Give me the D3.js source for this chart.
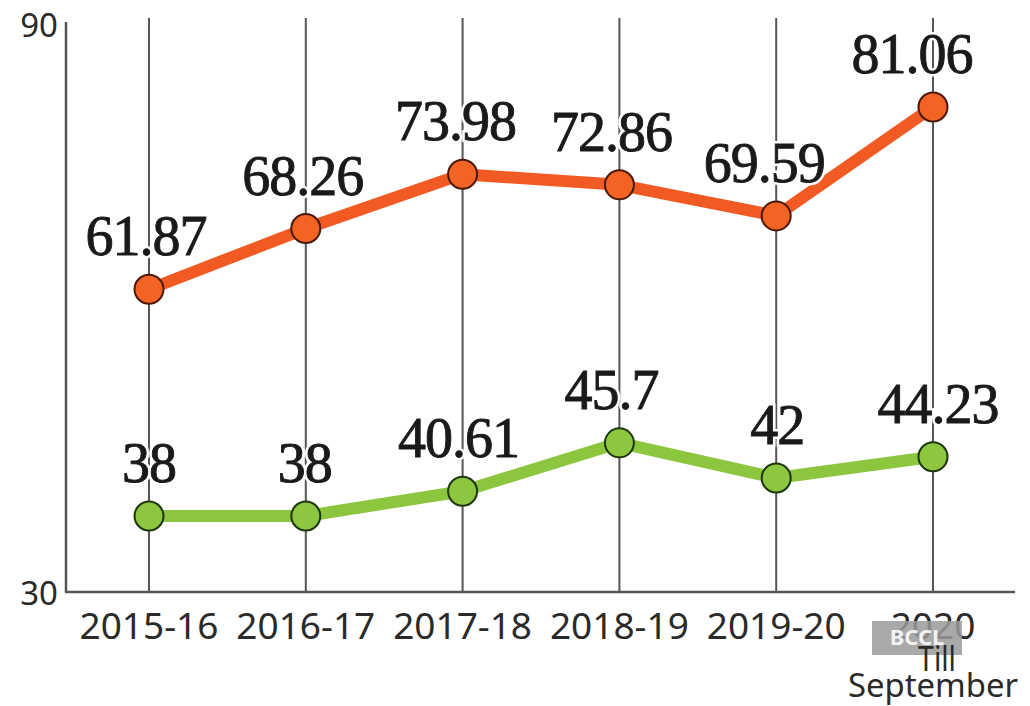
<!DOCTYPE html>
<html>
<head>
<meta charset="utf-8">
<script src="https://cdn.jsdelivr.net/npm/d3@7"></script>
<style>
  html, body { margin: 0; padding: 0; background: #fff; }
  #chart { width: 1030px; height: 706px; }
</style>
</head>
<body>
<div id="chart"></div>
<script>
  /*
   * Data section start
   */
  var years = ["2015-16", "2016-17", "2017-18", "2018-19", "2019-20", "2020"]
    , orangeValues = [61.87, 68.26, 73.98, 72.86, 69.59, 81.06]
    , greenValues = [38, 38, 40.61, 45.7, 42, 44.23]
    , orangeLabels = ["61.87", "68.26", "73.98", "72.86", "69.59", "81.06"]
    , greenLabels = ["38", "38", "40.61", "45.7", "42", "44.23"]
    , yTicks = [30, 90]
    , lastYearExtra = ["Till", "September"]
  /*
   * Data section end
   */

  var width = 1030
    , height = 706
    , svg = d3.select("#chart")
      .append("svg")
      .attr("width", width)
      .attr("height", height)

  var x = d3.scalePoint()
      .domain(years)
      .range([149, 933])
    , y = d3.scaleLinear()
      .domain([30, 90])
      .range([592, 22])

  // vertical grid lines
  svg.append("g")
    .selectAll("line")
      .data(years)
    .enter().append("line")
      .attr("x1", function (d) { return x(d) })
      .attr("x2", function (d) { return x(d) })
      .attr("y1", y(90) - 4)
      .attr("y2", y(30))
      .style("stroke", "#555")
      .style("stroke-width", 2)

  // axes (just lines, labels added by hand below)
  svg.append("line")
    .attr("x1", 66).attr("x2", 66)
    .attr("y1", y(90)).attr("y2", y(30))
    .style("stroke", "#555").style("stroke-width", 2.5)
  svg.append("line")
    .attr("x1", 65).attr("x2", 1015)
    .attr("y1", y(30)).attr("y2", y(30))
    .style("stroke", "#555").style("stroke-width", 2.5)

  svg.append("g")
    .selectAll("text")
      .data(yTicks)
    .enter().append("text")
      .attr("x", 58)
      .attr("y", function (d) { return y(d) + (d === 90 ? 15 : 13) })
      .attr("text-anchor", "end")
      .style("font-family", "'Noto Sans', sans-serif")
      .style("font-size", "33px")
      .style("fill", "#2a2a2a")
      .text(function (d) { return d })

  svg.append("g")
    .selectAll("text")
      .data(years)
    .enter().append("text")
      .attr("x", function (d) { return x(d) })
      .attr("y", 639)
      .attr("text-anchor", "middle")
      .style("font-family", "'Noto Sans', sans-serif")
      .style("font-size", "37px")
      .style("fill", "#2a2a2a")
      .text(function (d) { return d })

  // watermark box over "2020"
  svg.append("rect")
    .attr("x", 872).attr("y", 621)
    .attr("width", 90).attr("height", 34)
    .style("fill", "#9a9a9a")
    .style("opacity", 0.85)
  svg.append("text")
    .attr("x", 917).attr("y", 645)
    .attr("text-anchor", "middle")
    .style("font-family", "'Noto Sans', sans-serif")
    .style("font-size", "22px")
    .style("font-weight", "bold")
    .style("fill", "#f2f2f2")
    .text("BCCL")

  svg.append("text")
    .attr("x", 937)
    .attr("y", 671)
    .attr("text-anchor", "middle")
    .attr("textLength", 38)
    .attr("lengthAdjust", "spacingAndGlyphs")
    .style("font-family", "'Noto Sans', sans-serif")
    .style("font-size", "34px")
    .style("fill", "#2a2a2a")
    .text(lastYearExtra[0])
  svg.append("text")
    .attr("x", x("2020"))
    .attr("y", 697)
    .attr("text-anchor", "middle")
    .attr("textLength", 170)
    .attr("lengthAdjust", "spacingAndGlyphs")
    .style("font-family", "'Noto Sans', sans-serif")
    .style("font-size", "32px")
    .style("fill", "#2a2a2a")
    .text(lastYearExtra[1])

  var series = [
      { values: orangeValues, labels: orangeLabels, line: "#f15a22", dot: "#f26324", edge: "#4a1806", dx: [-3, -3, -7, -8, -12, -21] }
    , { values: greenValues, labels: greenLabels, line: "#8cc63f", dot: "#8dc63f", edge: "#1e360c", dx: [0, -1, -4, -8, 1, 5] }
  ]

  var line = d3.line()
    .x(function (d, i) { return x(years[i]) })
    .y(function (d) { return y(d) })

  series.forEach(function (s) {
    svg.append("path")
      .datum(s.values)
      .attr("d", line)
      .style("fill", "none")
      .style("stroke", s.line)
      .style("stroke-width", 12)
      .style("stroke-linejoin", "round")

    svg.append("g")
      .selectAll("circle")
        .data(s.values)
      .enter().append("circle")
        .attr("cx", function (d, i) { return x(years[i]) })
        .attr("cy", function (d) { return y(d) })
        .attr("r", 14.5)
        .style("fill", s.dot)
        .style("stroke", s.edge)
        .style("stroke-width", 2)

    // white halo so grid lines break behind the numbers
    var labels = svg.append("g")
    ;["halo", "text"].forEach(function (kind) {
      labels.selectAll("text." + kind)
          .data(s.values)
        .enter().append("text")
          .attr("class", kind)
          .attr("x", function (d, i) { return x(years[i]) + s.dx[i] })
          .attr("y", function (d) { return y(d) - 34 })
          .attr("text-anchor", "middle")
          .style("font-family", "'Liberation Serif', serif")
          .style("font-size", "56px")
          .style("letter-spacing", "-1px")
          .style("fill", kind === "halo" ? "#fff" : "#1a1a1a")
          .style("stroke", kind === "halo" ? "#fff" : "#1a1a1a")
          .style("stroke-width", kind === "halo" ? 6 : 0.9)
          .text(function (d, i) { return s.labels[i] })
    })
  })
</script>
</body>
</html>
